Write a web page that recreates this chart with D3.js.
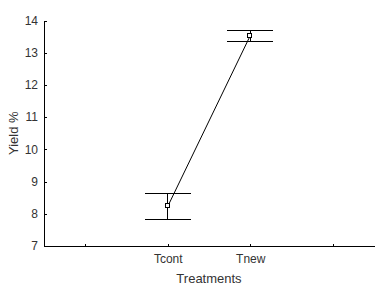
<!DOCTYPE html>
<html lang="en">
<head>
    <meta charset="UTF-8">
    <script src="https://cdnjs.cloudflare.com/ajax/libs/d3/7.8.5/d3.min.js"></script>
    <style>
        body { margin: 0; background: white; }
        text { font-family: "Liberation Sans", Arial, sans-serif; fill: #333; }
        .axis path, .axis line { stroke: black; stroke-width: 1px; shape-rendering: crispEdges; }
        .axis text { font-size: 12px; }
    </style>
</head>
<body>
<svg width="381" height="292"></svg>
<script>
    // data
    const slots = ["", "Tcont", "Tnew", " "];
    const treatments = ["Tcont", "Tnew"];
    const means = [8.23, 13.53];
    const upper = [8.62, 13.70];
    const lower = [7.83, 13.36];
    const yTicks = [7, 8, 9, 10, 11, 12, 13, 14];

    const svg = d3.select("svg");
    const plotLeft = 44, plotRight = 374, plotTop = 20.5, plotBottom = 246;

    const x = d3.scalePoint().domain(slots).range([plotLeft, plotRight]).padding(0.5);
    const y = d3.scaleLinear().domain([7, 14]).range([plotBottom, plotTop]);

    svg.append("g")
        .attr("class", "axis")
        .attr("transform", `translate(0,${plotBottom})`)
        .call(d3.axisBottom(x).tickSize(-2).tickPadding(8).tickSizeOuter(0))
        .call(g => g.selectAll("text").attr("dy", "0.71em"));

    svg.append("g")
        .attr("class", "axis")
        .attr("transform", `translate(${plotLeft},0)`)
        .call(d3.axisLeft(y).tickValues(yTicks).tickFormat(d3.format("d"))
            .tickSize(-3).tickPadding(6).tickSizeOuter(0))
        .call(g => g.select(".domain").attr("d", `M0,${plotTop}V${plotBottom}`));

    const rows = treatments.map((t, i) => ({ t, m: means[i], hi: upper[i], lo: lower[i] }));

    svg.append("path")
        .datum(rows)
        .attr("fill", "none")
        .attr("stroke", "black")
        .attr("d", d3.line().x(d => x(d.t)).y(d => y(d.m)));

    const half = 23;
    const eb = svg.selectAll("g.err").data(rows).enter().append("g").attr("class", "err")
        .attr("stroke", "black").attr("shape-rendering", "crispEdges");
    eb.append("line").attr("x1", d => x(d.t)).attr("x2", d => x(d.t))
        .attr("y1", d => y(d.hi)).attr("y2", d => y(d.lo));
    eb.append("line").attr("x1", d => x(d.t) - half).attr("x2", d => x(d.t) + half)
        .attr("y1", d => y(d.hi)).attr("y2", d => y(d.hi));
    eb.append("line").attr("x1", d => x(d.t) - half).attr("x2", d => x(d.t) + half)
        .attr("y1", d => y(d.lo)).attr("y2", d => y(d.lo));

    svg.selectAll("rect.pt").data(rows).enter().append("rect")
        .attr("class", "pt")
        .attr("x", d => Math.round(x(d.t)) - 2.5).attr("y", d => Math.round(y(d.m)) - 2.5)
        .attr("width", 4).attr("height", 4)
        .attr("fill", "white").attr("stroke", "black");

    svg.append("text")
        .attr("x", (plotLeft + plotRight) / 2).attr("y", 283)
        .attr("text-anchor", "middle").style("font-size", "13px")
        .text("Treatments");

    svg.append("text")
        .attr("transform", `translate(18,${(plotTop + plotBottom) / 2}) rotate(-90)`)
        .attr("text-anchor", "middle").style("font-size", "13px")
        .text("Yield %");
</script>
</body>
</html>
